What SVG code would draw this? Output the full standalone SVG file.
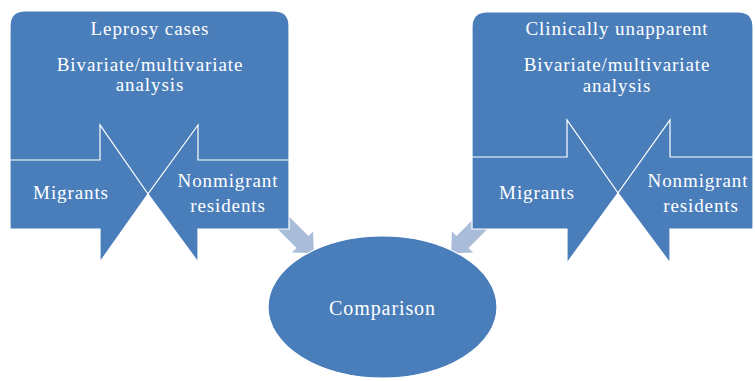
<svg xmlns="http://www.w3.org/2000/svg" width="755" height="381" viewBox="0 0 755 381">
<style>
.shape{fill:#4A7EBB;stroke:#FFFFFF;stroke-width:1.2}
.conn{fill:#A9BCDA;stroke:none}
text{font-family:"Liberation Serif","Times New Roman",serif;font-size:19px;fill:#FFFFFF;text-anchor:middle;letter-spacing:0.9px}
.big{font-size:20px}
</style>
<rect width="755" height="381" fill="#FFFFFF"/>
<g id="connectors">
<polygon class="conn" points="283.8,211.3 308.5,236 313.1,231.4 313.8,253.3 291.9,252.6 296.5,248 271.8,223.3"/>
<polygon class="conn" points="481.2,211.3 456.5,236 451.9,231.4 451.2,253.3 473.1,252.6 468.5,248 493.2,223.3"/>
</g>
<g id="leprosy-cases">
<path class="shape" d="M10,195 V26 Q10,11 25,11 H274 Q289,11 289,26 V195 Z"/>
<text x="150" y="35">Leprosy cases</text>
<text x="150" y="71">Bivariate/multivariate</text>
<text x="150" y="91">analysis</text>
</g>
<g id="left-migrants">
<path class="shape" d="M10,160 H100 V125 L148,194 L100,262 V229 H10 Z"/>
<text x="71" y="199">Migrants</text>
</g>
<g id="left-nonmigrant">
<path class="shape" d="M289,160 H198 V125 L148,194 L198,262 V229 H289 Z"/>
<text x="228" y="187">Nonmigrant</text>
<text x="228" y="212">residents</text>
</g>
<g id="clinically-unapparent">
<path class="shape" d="M472,193 V27 Q472,12 487,12 H738 Q753,12 753,27 V193 Z"/>
<text x="617" y="35">Clinically unapparent</text>
<text x="617" y="71">Bivariate/multivariate</text>
<text x="617" y="92">analysis</text>
</g>
<g id="right-migrants">
<path class="shape" d="M472,157 H567 V120 L618,193 L567,263 V229 H472 Z"/>
<text x="537" y="199">Migrants</text>
</g>
<g id="right-nonmigrant">
<path class="shape" d="M753,157 H670 V120 L618,193 L670,263 V229 H753 Z"/>
<text x="698" y="187">Nonmigrant</text>
<text x="701" y="212">residents</text>
</g>
<g id="comparison">
<ellipse class="shape" cx="382.5" cy="307" rx="114.5" ry="71"/>
<text class="big" x="382.5" y="315">Comparison</text>
</g>
</svg>
